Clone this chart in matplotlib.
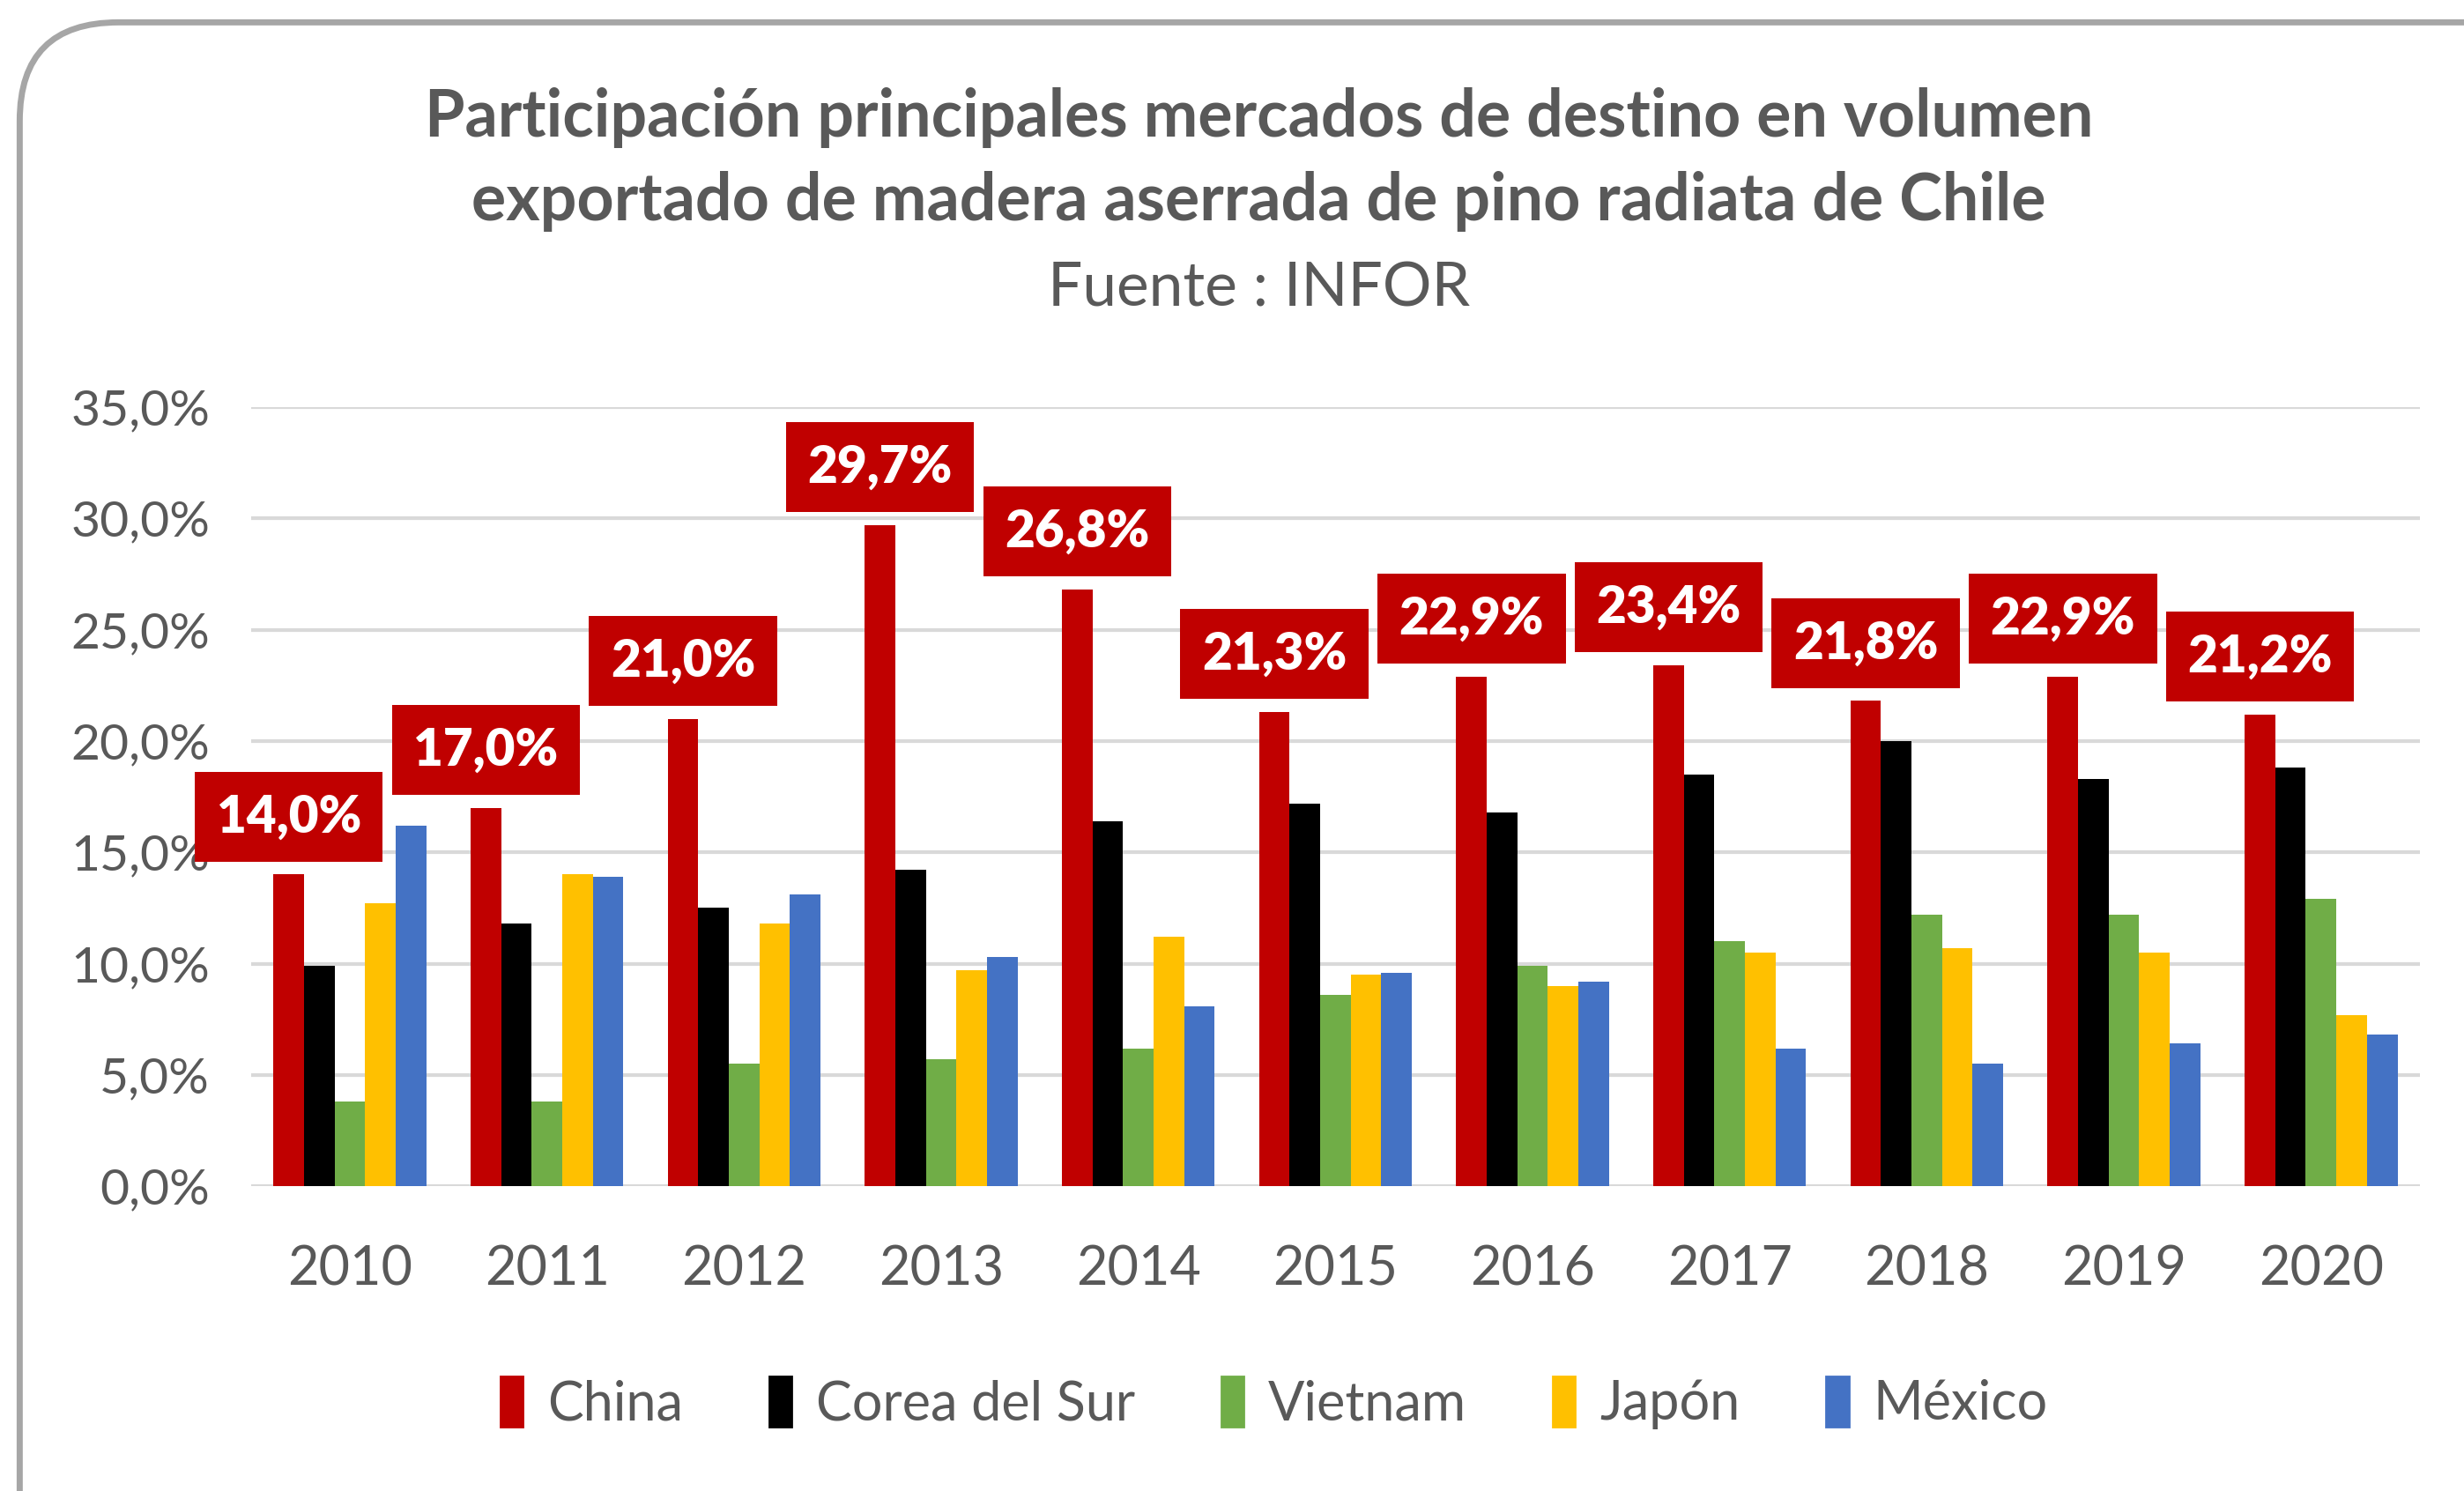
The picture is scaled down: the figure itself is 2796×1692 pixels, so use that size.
import numpy as np
import matplotlib
matplotlib.use("Agg")
import matplotlib.pyplot as plt
from matplotlib.patches import FancyBboxPatch, Rectangle

plt.rcParams['font.family'] = ['Lato', 'DejaVu Sans']

years = ['2010', '2011', '2012', '2013', '2014', '2015', '2016', '2017', '2018', '2019', '2020']
china = [14.0, 17.0, 21.0, 29.7, 26.8, 21.3, 22.9, 23.4, 21.8, 22.9, 21.2]
corea = [9.9, 11.8, 12.5, 14.2, 16.4, 17.2, 16.8, 18.5, 20.0, 18.3, 18.8]
vietnam = [3.8, 3.8, 5.5, 5.7, 6.2, 8.6, 9.9, 11.0, 12.2, 12.2, 12.9]
japon = [12.7, 14.0, 11.8, 9.7, 11.2, 9.5, 9.0, 10.5, 10.7, 10.5, 7.7]
mexico = [16.2, 13.9, 13.1, 10.3, 8.1, 9.6, 9.2, 6.2, 5.5, 6.4, 6.8]

series = [('China', china, '#C00000'),
          ('Corea del Sur', corea, '#000000'),
          ('Vietnam', vietnam, '#70AD47'),
          ('Japón', japon, '#FFC000'),
          ('México', mexico, '#4472C4')]

gray = '#595959'

fig = plt.figure(figsize=(13.98, 8.46), dpi=200)
ax = fig.add_axes([0.102, 0.2044, 0.880, 0.5226])

x = np.arange(len(years))
bar_width = 0.155
n = len(series)
for i, (name, vals, col) in enumerate(series):
    ax.bar(x + (i - (n - 1) / 2) * bar_width, vals, width=bar_width,
           color=col, label=name, zorder=3)

# red value boxes above the China bars
china_x = x - (n - 1) / 2 * bar_width
for xi, v in zip(china_x, china):
    ax.text(xi, v + 2.6, f"{v:.1f}%".replace('.', ','), ha='center', va='center',
            color='white', fontsize=21, fontweight='heavy', zorder=5,
            bbox=dict(boxstyle='square,pad=0.42', fc='#C00000', ec='none'))

ax.set_xlim(-0.5, len(years) - 0.5)
ax.set_ylim(0, 35)
ax.set_yticks(np.arange(0, 36, 5))
ax.set_yticklabels([f"{t:.1f}%".replace('.', ',') for t in np.arange(0, 36, 5)])
ax.set_xticks(x)
ax.set_xticklabels(years)
ax.tick_params(axis='both', length=0, colors=gray)
ax.tick_params(axis='y', labelsize=20.5, pad=17)
ax.tick_params(axis='x', labelsize=22, pad=24)
ax.grid(axis='y', color='#D9D9D9', linewidth=1.5, zorder=0)
for s in ax.spines.values():
    s.set_visible(False)

fig.text(0.511, 0.921, "Participación principales mercados de destino en volumen",
         ha='center', va='center', fontsize=26.5, fontweight='bold', color=gray)
fig.text(0.511, 0.865, "exportado de madera aserrada de pino radiata de Chile",
         ha='center', va='center', fontsize=26.5, fontweight='bold', color=gray)
fig.text(0.511, 0.806, "Fuente : INFOR", ha='center', va='center',
         fontsize=25, color=gray)

handles = [Rectangle((0, 0), 1, 1, color=col) for _, _, col in series]
fig.legend(handles, [s[0] for s in series], loc='center', bbox_to_anchor=(0.517, 0.059),
           ncol=5, frameon=False, fontsize=22, labelcolor=gray,
           handlelength=0.42, handleheight=1.05, handletextpad=0.45, columnspacing=1.6)

# rounded chart border
border = FancyBboxPatch((0.008, -0.1), 1.1, 1.085, transform=fig.transFigure,
                        boxstyle='round,pad=0,rounding_size=0.04', fc='none',
                        ec='#A6A6A6', lw=2.5, mutation_aspect=1.65)
fig.patches.append(border)

fig.savefig('out.png', dpi=200)
